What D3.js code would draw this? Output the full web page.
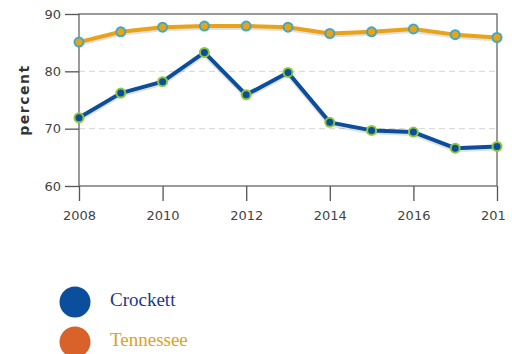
<!DOCTYPE html>
<html>
<head>
<meta charset="utf-8">
<script src="https://cdn.jsdelivr.net/npm/d3@7"></script>
<style>
  body { margin: 0; background: #fff; }
  svg { display: block; overflow: hidden; }
</style>
</head>
<body>
<div id="chart"></div>
<script>
// data
var years = [2008, 2009, 2010, 2011, 2012, 2013, 2014, 2015, 2016, 2017, 2018];
var crockett = [71.9, 76.2, 78.2, 83.3, 75.9, 79.8, 71.1, 69.7, 69.4, 66.6, 66.9];
var tennessee = [85.1, 86.9, 87.7, 87.9, 87.9, 87.7, 86.6, 86.9, 87.4, 86.4, 85.9];
var yTicks = [60, 70, 80, 90];
var xTicks = [2008, 2010, 2012, 2014, 2016, 2018];

var seriesNames = ["Crockett", "Tennessee"];
var lineColors = ["#0b4f9c", "#e8a317"];
var markerStroke = ["#8dc63f", "#3fa9c6"];
var legendDot = ["#0b4f9c", "#d9622b"];
var legendText = ["#1a3a8a", "#e0a020"];

// dimensions
var margin = { top: 14, right: 15, bottom: 168, left: 79 },
    width = 497 - margin.left,
    height = 186 - margin.top;

var svg = d3.select("#chart")
    .append("svg")
    .attr("width", 505)
    .attr("height", 354);

var g = svg.append("g")
    .attr("transform", "translate(" + margin.left + "," + margin.top + ")");

var x = d3.scaleLinear().domain([2008, 2018]).range([0, width]);
var y = d3.scaleLinear().domain([60, 90]).range([height, 0]);

// dashed grid
g.append("g")
    .selectAll("line")
    .data([70, 80])
    .enter()
    .append("line")
    .attr("x1", 0).attr("x2", width)
    .attr("y1", d => y(d)).attr("y2", d => y(d))
    .style("stroke", "#d4d4d4")
    .style("stroke-dasharray", "6,4");

// frame
g.append("rect")
    .attr("width", width).attr("height", height)
    .style("fill", "none")
    .style("stroke", "#666")
    .style("stroke-width", 1.3);

// axes
var xAxis = g.append("g")
    .attr("transform", "translate(0," + height + ")")
    .call(d3.axisBottom(x).tickValues(xTicks).tickFormat(d3.format("d")).tickSize(15).tickPadding(10));
var yAxis = g.append("g")
    .call(d3.axisLeft(y).tickValues(yTicks).tickSize(14).tickPadding(4));

[xAxis, yAxis].forEach(a => {
    a.select(".domain").remove();
    a.selectAll("line").style("stroke", "#555").style("stroke-width", 1.3);
    a.selectAll("text")
        .style("font-family", "'DejaVu Sans', Arial, sans-serif")
        .style("font-size", "13px")
        .style("fill", "#444");
});

// y label
svg.append("text")
    .attr("transform", "translate(29,100) rotate(-90)")
    .attr("text-anchor", "middle")
    .style("font-family", "'DejaVu Sans', Arial, sans-serif")
    .style("font-size", "14px")
    .style("font-weight", "bold")
    .style("letter-spacing", "1.5px")
    .style("fill", "#333")
    .text("percent");

// lines and markers
var line = d3.line()
    .x((d, i) => x(years[i]))
    .y(d => y(d));

[crockett, tennessee].forEach((vals, k) => {
    g.append("path")
        .datum(vals)
        .attr("d", line)
        .attr("transform", "translate(0,1.5)")
        .style("fill", "none")
        .style("stroke", "rgba(0,0,0,0.12)")
        .style("stroke-width", 5);
    g.append("path")
        .datum(vals)
        .attr("d", line)
        .style("fill", "none")
        .style("stroke", lineColors[k])
        .style("stroke-width", 4)
        .style("stroke-linejoin", "round");
    g.append("g")
        .selectAll("circle")
        .data(vals)
        .enter()
        .append("circle")
        .attr("cx", (d, i) => x(years[i]))
        .attr("cy", d => y(d))
        .attr("r", 4.5)
        .style("fill", lineColors[k])
        .style("stroke", markerStroke[k])
        .style("stroke-width", 2);
});

// legend
var legend = svg.append("g")
    .selectAll("g")
    .data(seriesNames)
    .enter()
    .append("g")
    .attr("transform", (d, i) => "translate(75," + (302 + i * 40) + ")");
legend.append("circle")
    .attr("r", 15.5)
    .style("fill", (d, i) => legendDot[i]);
legend.append("text")
    .attr("x", 35)
    .attr("y", 4)
    .style("font-family", "'Liberation Serif', 'Times New Roman', serif")
    .style("font-size", "19px")
    .style("fill", (d, i) => legendText[i])
    .text(d => d);
</script>
</body>
</html>
